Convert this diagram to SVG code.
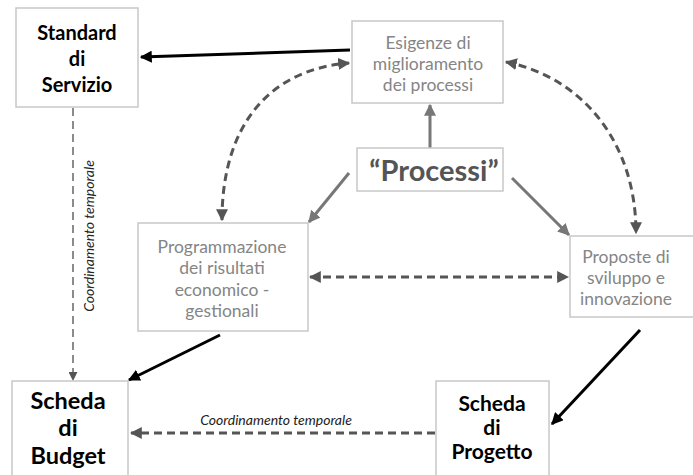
<svg xmlns="http://www.w3.org/2000/svg" width="693" height="475" viewBox="0 0 693 475">
<style>
.box{fill:#fff;stroke:#c8c8c8;stroke-width:1.5}
.bt{font-family:Lato,"Open Sans",sans-serif;font-weight:bold;font-size:20px;fill:#000;text-anchor:middle}
.gt{font-family:Lato,"Open Sans",sans-serif;font-size:17.5px;fill:#858585;text-anchor:middle}
.lab{font-family:Lato,"Open Sans",sans-serif;font-style:italic;font-size:14px;fill:#222;text-anchor:middle}
.blk{stroke:#000;stroke-width:3;fill:none}
.gry{stroke:#777;stroke-width:3;fill:none}
.dsh{stroke:#555;stroke-width:3;fill:none;stroke-dasharray:8 5}
.dsh2{stroke:#666;stroke-width:1.5;fill:none;stroke-dasharray:8 5}
</style>
<defs>
<marker id="ab" viewBox="0 0 10 10" refX="9" refY="5" markerWidth="4" markerHeight="4" orient="auto-start-reverse"><path d="M0,0 L10,5 L0,10 z" fill="#000"/></marker>
<marker id="ag" viewBox="0 0 10 10" refX="9" refY="5" markerWidth="4" markerHeight="4" orient="auto-start-reverse"><path d="M0,0 L10,5 L0,10 z" fill="#777"/></marker>
<marker id="ad" viewBox="0 0 10 10" refX="9" refY="5" markerWidth="4" markerHeight="4" orient="auto-start-reverse"><path d="M0,0 L10,5 L0,10 z" fill="#555"/></marker>
<marker id="ad2" viewBox="0 0 10 10" refX="9" refY="5" markerWidth="6" markerHeight="6" orient="auto-start-reverse"><path d="M0,0 L10,5 L0,10 z" fill="#555"/></marker>
</defs>
<rect width="693" height="475" fill="#fff"/>
<g id="connectors">
<path class="blk" d="M350,50 L141,57" marker-end="url(#ab)"/>
<path class="dsh" d="M222,220 C222,130 265,70 349,63" marker-start="url(#ad)" marker-end="url(#ad)"/>
<path class="dsh" d="M506,62 C585,78 636,145 636,233" marker-start="url(#ad)" marker-end="url(#ad)"/>
<path class="gry" d="M430,148 L430,105" marker-end="url(#ag)"/>
<path class="gry" d="M349,173 L309,222" marker-end="url(#ag)"/>
<path class="gry" d="M512,178 L569,235" marker-end="url(#ag)"/>
<path class="dsh" d="M310,277 L568,277" marker-start="url(#ad)" marker-end="url(#ad)"/>
<path class="dsh2" d="M73,108 L73,380" marker-end="url(#ad2)"/>
<path class="blk" d="M220,335 L129,380" marker-end="url(#ab)"/>
<path class="blk" d="M640,330 L552,424" marker-end="url(#ab)"/>
<path class="dsh" d="M435,433 L131,433" marker-end="url(#ad)"/>
<text class="lab" transform="translate(94,236) rotate(-90)">Coordinamento temporale</text>
<text class="lab" x="276" y="425">Coordinamento temporale</text>
</g>
<g id="standard">
<rect class="box" x="16" y="8" width="122" height="99"/>
<text class="bt" x="77" y="40">Standard</text>
<text class="bt" x="77" y="66">di</text>
<text class="bt" x="77" y="92">Servizio</text>
</g>
<g id="esigenze">
<rect class="box" x="352" y="21" width="151" height="82"/>
<text class="gt" x="428" y="49">Esigenze di</text>
<text class="gt" x="428" y="70">miglioramento</text>
<text class="gt" x="428" y="91">dei processi</text>
</g>
<g id="processi">
<rect class="box" x="357" y="148" width="146" height="43"/>
<text x="434" y="181" style="font-family:Lato,'Open Sans',sans-serif;font-weight:bold;font-size:29px;fill:#555;text-anchor:middle">“Processi”</text>
</g>
<g id="programmazione">
<rect class="box" x="138" y="223" width="170" height="108"/>
<text class="gt" x="222" y="253">Programmazione</text>
<text class="gt" x="222" y="274">dei risultati</text>
<text class="gt" x="222" y="296">economico -</text>
<text class="gt" x="222" y="317">gestionali</text>
</g>
<g id="proposte">
<rect class="box" x="570" y="236" width="130" height="81"/>
<text class="gt" x="626" y="263">Proposte di</text>
<text class="gt" x="626" y="284">sviluppo e</text>
<text class="gt" x="626" y="305">innovazione</text>
</g>
<g id="budget">
<rect class="box" x="12" y="381" width="116" height="100"/>
<text class="bt" x="68" y="409" style="font-size:23.5px">Scheda</text>
<text class="bt" x="68" y="436" style="font-size:23.5px">di</text>
<text class="bt" x="68" y="464" style="font-size:23.5px">Budget</text>
</g>
<g id="progetto">
<rect class="box" x="436" y="381" width="113" height="100"/>
<text class="bt" x="492" y="411" style="font-size:21px">Scheda</text>
<text class="bt" x="492" y="435" style="font-size:21px">di</text>
<text class="bt" x="492" y="459" style="font-size:21px">Progetto</text>
</g>
</svg>
